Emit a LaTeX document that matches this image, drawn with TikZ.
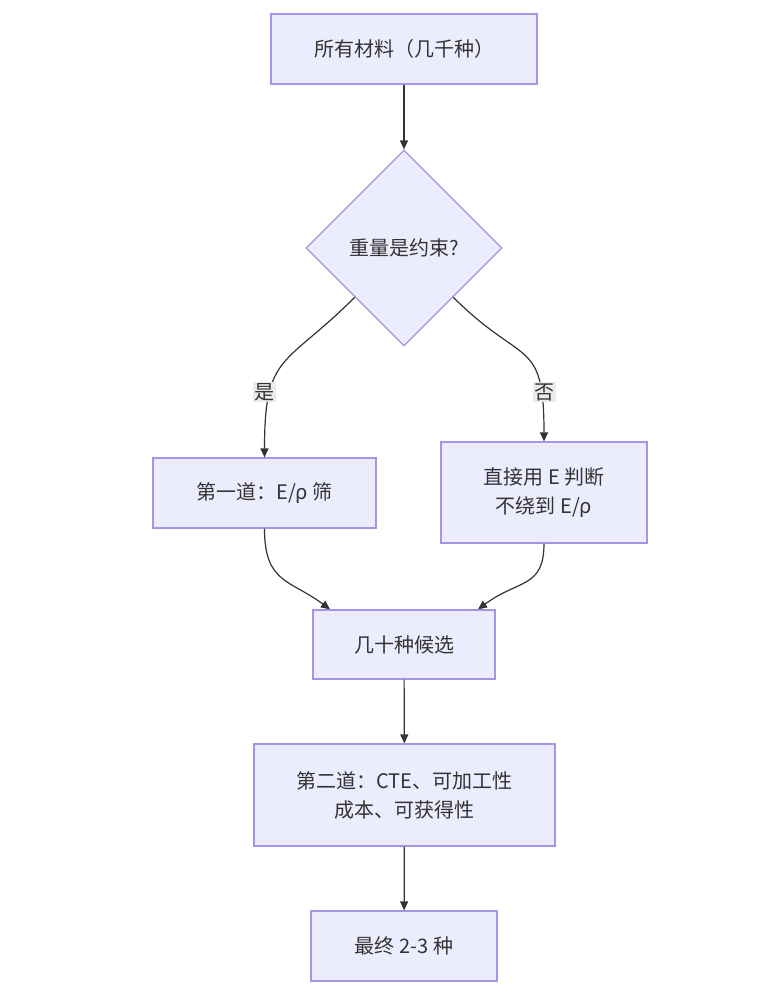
\documentclass[tikz,border=0pt]{standalone}
\usepackage{fontspec}
\setmainfont{Noto Sans CJK SC}
\usetikzlibrary{shapes.geometric,arrows.meta,calc}
\definecolor{boxfill}{HTML}{ECECFF}
\definecolor{boxline}{HTML}{A595E2}
\definecolor{txt}{HTML}{333333}
\definecolor{lblfill}{HTML}{EAEAEA}
\tikzset{
  box/.style={draw=boxline, fill=boxfill, line width=1.2pt, text=txt, align=center, font=\fontsize{20}{29}\selectfont},
  dia/.style={box, diamond, minimum width=196pt, minimum height=196pt, inner sep=0pt},
  edge/.style={draw=txt, line width=1.2pt, -{Triangle[length=9pt,width=8pt]}},
  lbl/.style={fill=lblfill, text=txt, inner sep=1.5pt, font=\fontsize{20}{22}\selectfont}
}
\begin{document}
\begin{tikzpicture}[x=1pt,y=-1pt]
\useasboundingbox (0,0) rectangle (761,994);
\node[box, minimum width=266pt, minimum height=70pt] (top) at (404,49) {所有材料（几千种）};
\node[dia] (d) at (404,248) {重量是约束?};
\node[box, minimum width=223pt, minimum height=70pt] (l) at (264.5,493) {第一道：E/ρ 筛};
\node[box, minimum width=206pt, minimum height=101pt] (r) at (544,492.5) {直接用 E 判断\\不绕到 E/ρ};
\node[box, minimum width=182pt, minimum height=69pt] (m) at (404,644.5) {几十种候选};
\node[box, minimum width=301pt, minimum height=102pt] (s) at (404.5,795) {第二道：CTE、可加工性\\成本、可获得性};
\node[box, minimum width=186pt, minimum height=70pt] (f) at (404,946) {最终 2-3 种};
\draw[edge] (top) -- (d.north);
\draw[edge] (d.south west) .. controls ($(d.south west)+(-70,70)$) and ($(l.north)+(0,-105)$) .. (l.north);
\draw[edge] (d.south east) .. controls ($(d.south east)+(70,70)$) and ($(r.north)+(0,-105)$) .. (r.north);
\coordinate (ml) at ($(m.north)+(-74,0)$);
\coordinate (mr) at ($(m.north)+(74,0)$);
\draw[edge] (l.south) .. controls ($(l.south)+(0,55)$) and ($(ml)+(-40,-30)$) .. (ml);
\draw[edge] (r.south) .. controls ($(r.south)+(0,45)$) and ($(mr)+(40,-30)$) .. (mr);
\draw[edge] (m) -- (s);
\draw[edge] (s) -- (f);
\node[lbl] (yes) at (264,392) {是};
\node[lbl] (no) at (544,392) {否};
\end{tikzpicture}
\end{document}
